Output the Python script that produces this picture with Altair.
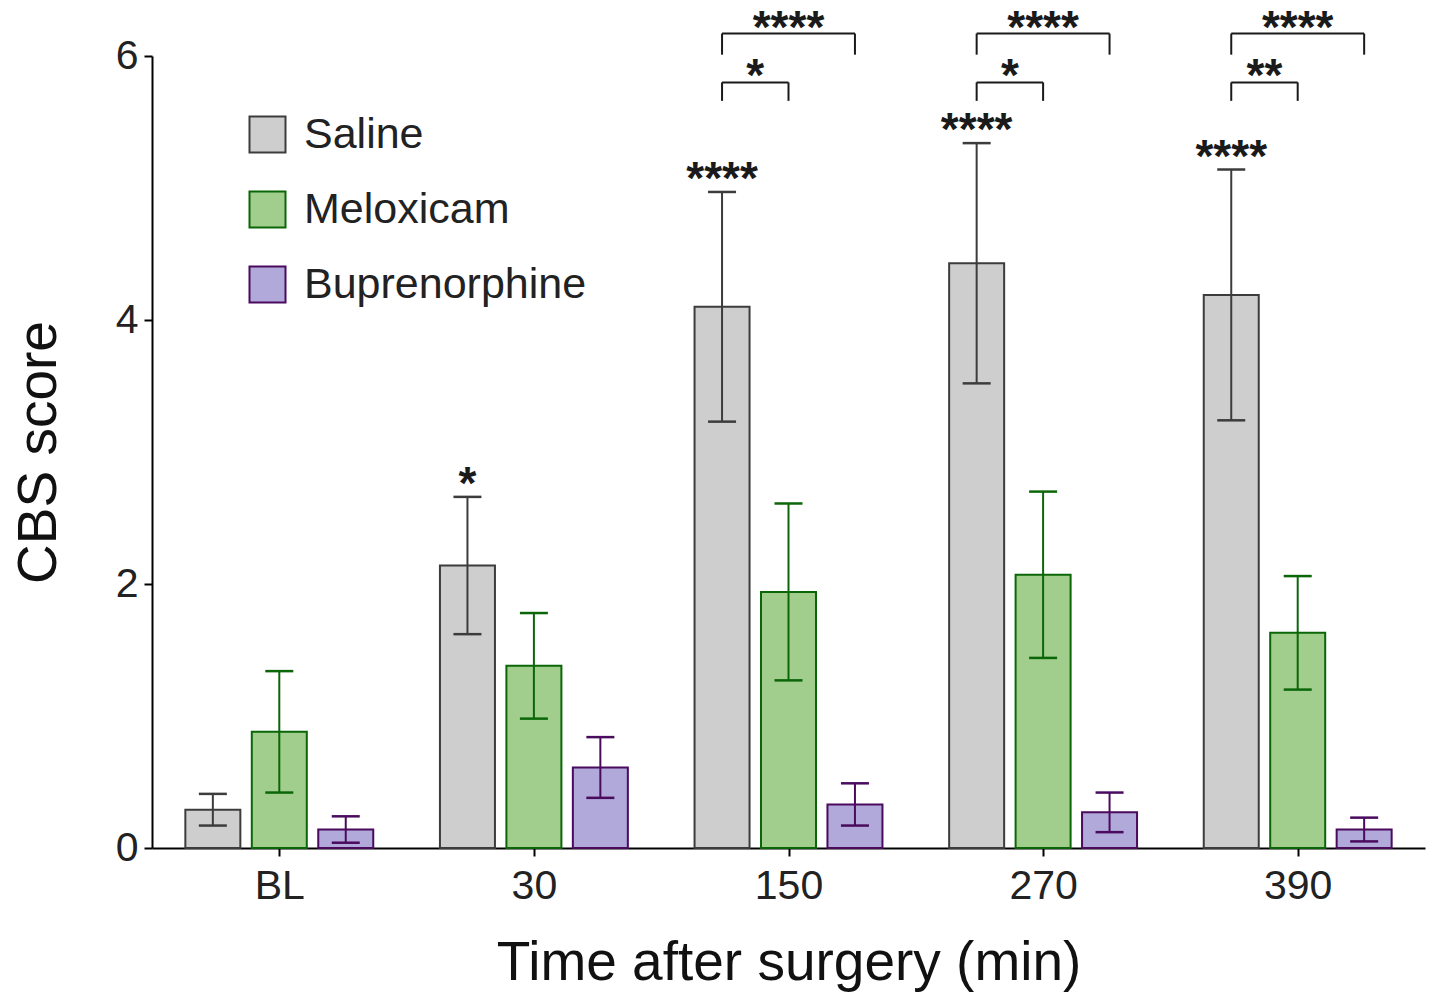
import altair as alt
import pandas as pd

times = ["BL", "30", "150", "270", "390"]
groups = ["Saline", "Meloxicam", "Buprenorphine"]

saline_mean = [0.29, 2.14, 4.10, 4.43, 4.19]
saline_err = [0.12, 0.52, 0.87, 0.91, 0.95]
melox_mean = [0.88, 1.38, 1.94, 2.07, 1.63]
melox_err = [0.46, 0.40, 0.67, 0.63, 0.43]
bup_mean = [0.14, 0.61, 0.33, 0.27, 0.14]
bup_err = [0.10, 0.23, 0.16, 0.15, 0.09]

# significance marks
saline_vs_bl = ["", "*", "****", "****", "****"]
saline_vs_melox = ["", "", "*", "*", "**"]
saline_vs_bup = ["", "", "****", "****", "****"]

fills = ["#CECECE", "#A1CD8D", "#B1A9D9"]
strokes = ["#3C3C3C", "#0B6608", "#4A0A5E"]

STEP = 0.261   # offset between bars inside a group (group units)
CAP = 0.055    # half-width of error-bar caps (group units)
FONT = "Liberation Sans"

rows = []
for gi, (g, means, errs) in enumerate(zip(groups, [saline_mean, melox_mean, bup_mean],
                                           [saline_err, melox_err, bup_err])):
    for ti, t in enumerate(times):
        xpos = ti + (gi - 1) * STEP
        rows.append(dict(group=g, time=t, x=xpos, xl=xpos - CAP, xr=xpos + CAP,
                         mean=means[ti], lo=means[ti] - errs[ti], hi=means[ti] + errs[ti]))
df = pd.DataFrame(rows)

star_rows = []
for ti, s in enumerate(saline_vs_bl):
    if s:
        star_rows.append(dict(x=ti - STEP, y=saline_mean[ti] + saline_err[ti], label=s))
stars = pd.DataFrame(star_rows)

UP, UP_LEG, LOW, LOW_LEG = 6.17, 6.01, 5.80, 5.66
br_rows = []
for ti in range(len(times)):
    if saline_vs_bup[ti]:
        br_rows.append(dict(x1=ti - STEP, x2=ti + STEP, y=UP, yl=UP_LEG, label=saline_vs_bup[ti]))
    if saline_vs_melox[ti]:
        br_rows.append(dict(x1=ti - STEP, x2=ti, y=LOW, yl=LOW_LEG, label=saline_vs_melox[ti]))
br = pd.DataFrame(br_rows)
br["xm"] = (br["x1"] + br["x2"]) / 2

xscale = alt.Scale(domain=[-0.5, 4.5], nice=False, zero=False, padding=0)
yscale = alt.Scale(domain=[0, 6], nice=False)
fill_scale = alt.Scale(domain=groups, range=fills)
stroke_scale = alt.Scale(domain=groups, range=strokes)

label_expr = "[" + ",".join(f"'{t}'" for t in times) + "][datum.value]"

x_enc = alt.X("x:Q", scale=xscale,
              axis=alt.Axis(values=list(range(len(times))), labelExpr=label_expr,
                            title="Time after surgery (min)", titlePadding=30,
                            labelPadding=10))
y_enc = alt.Y("mean:Q", scale=yscale,
              axis=alt.Axis(values=[0, 2, 4, 6], format="d", title="CBS score",
                            titlePadding=48, labelPadding=6))

base = alt.Chart(df)

bars = base.mark_bar(size=55, strokeWidth=2).encode(
    x=x_enc,
    y=y_enc,
    fill=alt.Fill("group:N", scale=fill_scale,
                  legend=alt.Legend(title=None, orient="none", legendX=94, legendY=57,
                                    symbolType="square", symbolSize=1296,
                                    symbolStrokeWidth=2, labelFontSize=43,
                                    labelFont=FONT, labelColor="#222222", labelLimit=0,
                                    labelOffset=15, rowPadding=30)),
    stroke=alt.Stroke("group:N", scale=stroke_scale),
)

err = base.mark_rule(strokeWidth=2).encode(
    x="x:Q", y="lo:Q", y2="hi:Q",
    stroke=alt.Stroke("group:N", scale=stroke_scale),
)
cap_hi = base.mark_rule(strokeWidth=2.5).encode(
    x="xl:Q", x2="xr:Q", y="hi:Q",
    stroke=alt.Stroke("group:N", scale=stroke_scale),
)
cap_lo = base.mark_rule(strokeWidth=2.5).encode(
    x="xl:Q", x2="xr:Q", y="lo:Q",
    stroke=alt.Stroke("group:N", scale=stroke_scale),
)

star_text = alt.Chart(stars).mark_text(fontSize=46, fontWeight="bold", font=FONT,
                                       color="#1a1a1a", baseline="alphabetic",
                                       dy=2).encode(
    x="x:Q", y="y:Q", text="label:N")

bch = alt.Chart(br)
br_h = bch.mark_rule(strokeWidth=2, color="#1a1a1a").encode(x="x1:Q", x2="x2:Q", y="y:Q")
br_l = bch.mark_rule(strokeWidth=2, color="#1a1a1a").encode(x="x1:Q", y="y:Q", y2="yl:Q")
br_r = bch.mark_rule(strokeWidth=2, color="#1a1a1a").encode(x="x2:Q", y="y:Q", y2="yl:Q")
br_t = bch.mark_text(fontSize=46, fontWeight="bold", font=FONT, color="#1a1a1a",
                     baseline="alphabetic", dy=9).encode(x="xm:Q", y="y:Q", text="label:N")

chart = alt.layer(bars, err, cap_hi, cap_lo, star_text, br_h, br_l, br_r, br_t).properties(
    width=1273, height=792,
    autosize=alt.AutoSizeParams(type="none"),
    padding={"left": 152, "top": 56, "right": 4, "bottom": 147},
).configure_view(stroke=None).configure_axis(
    grid=False, domainColor="#000000", domainWidth=2, tickColor="#000000", tickWidth=2,
    tickSize=8, labelFont=FONT, labelFontSize=41, labelColor="#222222",
    titleFont=FONT, titleFontSize=55, titleFontWeight="normal", titleColor="#111111",
)

chart.save("out.html", embed_options={"renderer": "svg", "actions": False})
